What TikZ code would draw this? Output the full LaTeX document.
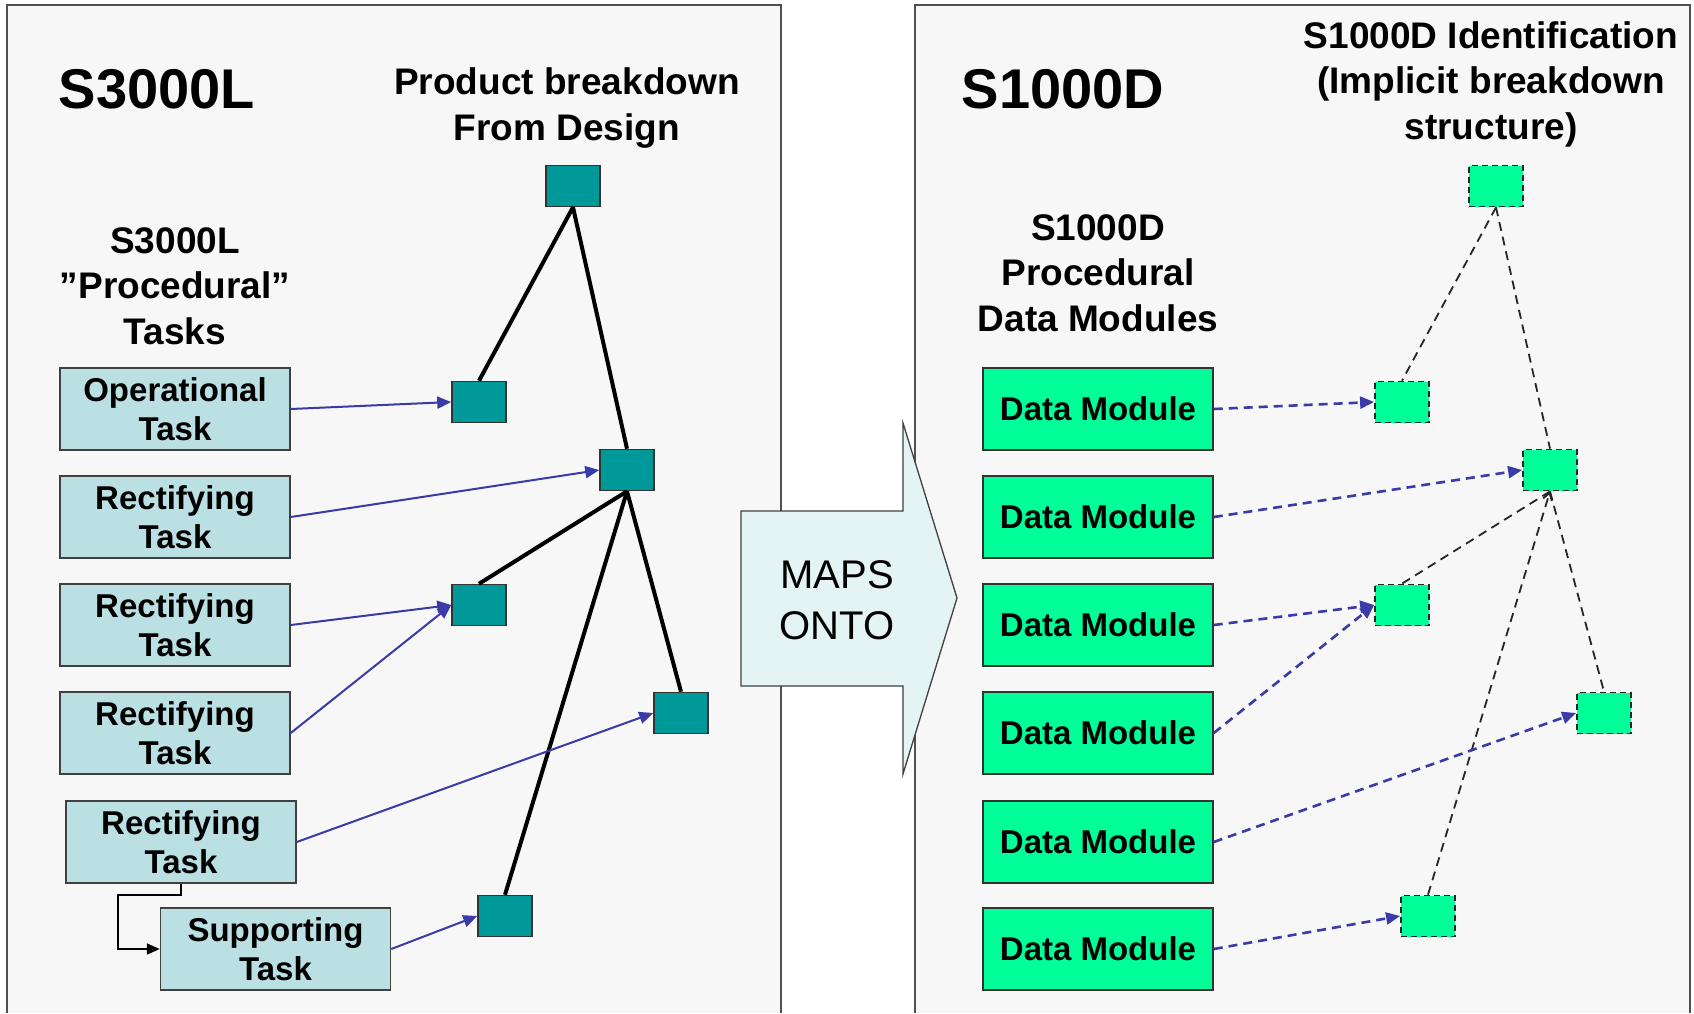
\documentclass[tikz,border=0pt]{standalone}
\usepackage{fontspec}
\setmainfont{Liberation Sans}
\usetikzlibrary{arrows.meta}
\definecolor{panelbg}{HTML}{F7F7F7}
\definecolor{panelline}{HTML}{505050}
\definecolor{tealsq}{HTML}{009999}
\definecolor{taskfill}{HTML}{BBE0E3}
\definecolor{dmgreen}{HTML}{00FF99}
\definecolor{mapblue}{HTML}{3A3AA8}
\definecolor{mapsfill}{HTML}{E4F3F4}
\begin{document}
\begin{tikzpicture}[x=1pt,y=-1pt,
  taskbox/.style={draw=black!75, line width=1.5pt, fill=taskfill, minimum width=230pt, minimum height=82pt, inner sep=0pt, align=center, font=\fontsize{33}{39}\selectfont\bfseries},
  dmbox/.style={draw=black!80, line width=1.5pt, fill=dmgreen, minimum width=230pt, minimum height=82pt, inner sep=0pt, align=center, font=\fontsize{33}{39}\selectfont\bfseries},
  tsq/.style={draw=black!80, line width=1.5pt, fill=tealsq, minimum width=54pt, minimum height=41pt, inner sep=0pt},
  gsq/.style={draw=black!85, line width=1.8pt, dash pattern=on 6pt off 4pt, fill=dmgreen, minimum width=54pt, minimum height=41pt, inner sep=0pt},
  treeline/.style={draw=black, line width=4pt},
  dtreeline/.style={draw=black!85, line width=1.8pt, dash pattern=on 9pt off 6pt},
  maparrow/.style={draw=mapblue, line width=2pt, -{Triangle[length=14pt,width=12pt]}},
  dmaparrow/.style={draw=mapblue, line width=2.6pt, dash pattern=on 9pt off 6pt, -{Triangle[length=14pt,width=12pt]}},
  elbowarrow/.style={draw=black, line width=2pt, -{Triangle[length=13pt,width=11pt]}},
  title/.style={font=\fontsize{56}{60}\selectfont\bfseries},
  heading/.style={font=\fontsize{37}{45.5}\selectfont\bfseries, align=center},
  mapstext/.style={font=\fontsize{40}{51}\selectfont, align=center}
]
\useasboundingbox (0,0) rectangle (1694,1013);
\fill[white] (0,0) rectangle (1694,1013);

% panels
\fill[panelbg] (7,5) rectangle (781,1013);
\draw[panelline, line width=1.5pt] (7,1013) -- (7,5) -- (781,5) -- (781,1013);
\fill[panelbg] (915,5) rectangle (1690,1013);
\draw[panelline, line width=1.5pt] (915,1013) -- (915,5) -- (1690,5) -- (1690,1013);

% ---------- left panel ----------
\node[title] (ltitle) at (157,89) {S3000L};
\node[heading] (lhead) at (567,108) {Product breakdown\\From Design};
\node[heading] (lsub) at (175,286) {S3000L\\''Procedural''\\Tasks};

\node[taskbox] (t1) at (175,409) {Operational\\Task};
\node[taskbox] (t2) at (175,517) {Rectifying\\Task};
\node[taskbox] (t3) at (175,625) {Rectifying\\Task};
\node[taskbox] (t4) at (175,733) {Rectifying\\Task};
\node[taskbox] (t5) at (181,842) {Rectifying\\Task};
\node[taskbox] (t6) at (275.5,949) {Supporting\\Task};

\node[tsq] (p1) at (573,186) {};
\node[tsq] (p2) at (479,402) {};
\node[tsq] (p3) at (627,470) {};
\node[tsq] (p4) at (479,605) {};
\node[tsq] (p5) at (681,713) {};
\node[tsq] (p6) at (505,916) {};

\draw[treeline] (p1.south) -- (p2.north);
\draw[treeline] (p1.south) -- (p3.north);
\draw[treeline] (p3.south) -- (p4.north);
\draw[treeline] (p3.south) -- (p5.north);
\draw[treeline] (p3.south) -- (p6.north);

\draw[maparrow] (t1.east) -- (p2.west);
\draw[maparrow] (t2.east) -- (p3.west);
\draw[maparrow] (t3.east) -- (p4.west);
\draw[maparrow] (t4.east) -- (p4.west);
\draw[maparrow] (t5.east) -- (p5.west);
\draw[maparrow] (t6.east) -- (p6.west);

\coordinate (elb) at (118,895);
\draw[elbowarrow] (t5.south) |- (elb) |- (t6.west);

% ---------- maps onto arrow ----------
\draw[fill=mapsfill, draw=black!75, line width=1.3pt]
  (741,511) -- (903,511) -- (903,423) -- (957,598) -- (903,774) -- (903,686) -- (741,686) -- cycle;
\node[mapstext] (maps) at (837,600) {MAPS\\ONTO};

% ---------- right panel ----------
\node[title] (rtitle) at (1063,89) {S1000D};
\node[heading] (rhead) at (1491,84) {S1000D Identification\\(Implicit breakdown\\structure)};
\node[heading] (rsub) at (1098,273) {S1000D\\Procedural\\Data Modules};

\node[dmbox] (d1) at (1098,409) {Data Module};
\node[dmbox] (d2) at (1098,517) {Data Module};
\node[dmbox] (d3) at (1098,625) {Data Module};
\node[dmbox] (d4) at (1098,733) {Data Module};
\node[dmbox] (d5) at (1098,842) {Data Module};
\node[dmbox] (d6) at (1098,949) {Data Module};

\node[gsq] (g1) at (1496,186) {};
\node[gsq] (g2) at (1402,402) {};
\node[gsq] (g3) at (1550,470) {};
\node[gsq] (g4) at (1402,605) {};
\node[gsq] (g5) at (1604,713) {};
\node[gsq] (g6) at (1428,916) {};

\draw[dtreeline] (g1.south) -- (g2.north);
\draw[dtreeline] (g1.south) -- (g3.north);
\draw[dtreeline] (g3.south) -- (g4.north);
\draw[dtreeline] (g3.south) -- (g5.north);
\draw[dtreeline, -{Straight Barb[length=7pt,width=9pt]}] (g6.north) -- (g3.south);

\draw[dmaparrow] (d1.east) -- (g2.west);
\draw[dmaparrow] (d2.east) -- (g3.west);
\draw[dmaparrow] (d3.east) -- (g4.west);
\draw[dmaparrow] (d4.east) -- (g4.west);
\draw[dmaparrow] (d5.east) -- (g5.west);
\draw[dmaparrow] (d6.east) -- (g6.west);
\end{tikzpicture}
\end{document}
